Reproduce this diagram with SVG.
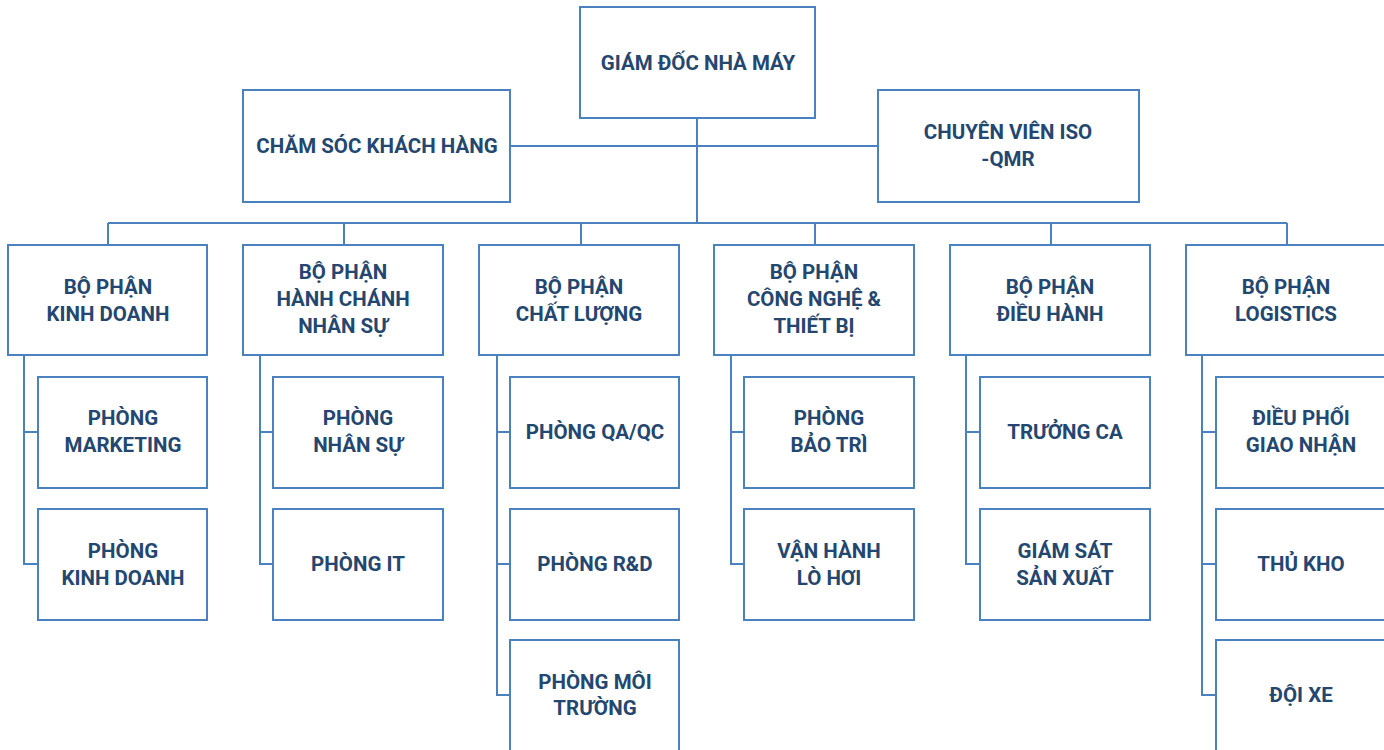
<svg xmlns="http://www.w3.org/2000/svg" width="1384" height="750" viewBox="0 0 1384 750">
<style>
.b{fill:#ffffff;stroke:#4a82c0;stroke-width:2}
.c{fill:none;stroke:#4a82c0;stroke-width:2}
text{font-family:Roboto,"Liberation Sans",sans-serif;font-weight:bold;font-size:20.5px;fill:#24476f;text-anchor:middle}
</style>
<rect width="1384" height="750" fill="#ffffff"/>
<g id="connectors">
<path class="c" d="M697 118V223M510 146H878M108 223H1287M108 223V245M344 223V245M581 223V245M815 223V245M1051 223V245M1287 223V245"/>
<path class="c" d="M24 355V564H38M24 432H38"/>
<path class="c" d="M260 355V564H273M260 432H273"/>
<path class="c" d="M497 355V695H510M497 432H510M497 564H510"/>
<path class="c" d="M731 355V564H744M731 432H744"/>
<path class="c" d="M966 355V564H980M966 432H980"/>
<path class="c" d="M1202 355V695H1216M1202 432H1216M1202 564H1216"/>
</g>
<g id="giamdoc"><rect class="b" x="580" y="7" width="235" height="111"/><text x="698" y="70">GIÁM ĐỐC NHÀ MÁY</text></g>
<g id="cskh"><rect class="b" x="243" y="90" width="267" height="112"/><text x="377" y="153">CHĂM SÓC KHÁCH HÀNG</text></g>
<g id="iso"><rect class="b" x="878" y="90" width="261" height="112"/><text x="1008" y="139">CHUYÊN VIÊN ISO</text><text x="1008" y="166">-QMR</text></g>

<g id="bp-kinhdoanh"><rect class="b" x="8" y="245" width="199" height="110"/><text x="108" y="294">BỘ PHẬN</text><text x="108" y="321">KINH DOANH</text></g>
<g id="bp-hcns"><rect class="b" x="243" y="245" width="200" height="110"/><text x="343" y="279">BỘ PHẬN</text><text x="343" y="306">HÀNH CHÁNH</text><text x="343" y="333">NHÂN SỰ</text></g>
<g id="bp-chatluong"><rect class="b" x="479" y="245" width="200" height="110"/><text x="579" y="294">BỘ PHẬN</text><text x="579" y="321">CHẤT LƯỢNG</text></g>
<g id="bp-congnghe"><rect class="b" x="714" y="245" width="200" height="110"/><text x="814" y="279">BỘ PHẬN</text><text x="814" y="306">CÔNG NGHỆ &amp;</text><text x="814" y="333">THIẾT BỊ</text></g>
<g id="bp-dieuhanh"><rect class="b" x="950" y="245" width="200" height="110"/><text x="1050" y="294">BỘ PHẬN</text><text x="1050" y="321">ĐIỀU HÀNH</text></g>
<g id="bp-logistics"><rect class="b" x="1186" y="245" width="200" height="110"/><text x="1286" y="294">BỘ PHẬN</text><text x="1286" y="321">LOGISTICS</text></g>

<g id="p-marketing"><rect class="b" x="38" y="377" width="169" height="111"/><text x="123" y="425">PHÒNG</text><text x="123" y="452">MARKETING</text></g>
<g id="p-kinhdoanh"><rect class="b" x="38" y="509" width="169" height="111"/><text x="123" y="558">PHÒNG</text><text x="123" y="585">KINH DOANH</text></g>
<g id="p-nhansu"><rect class="b" x="273" y="377" width="170" height="111"/><text x="358" y="425">PHÒNG</text><text x="358" y="452">NHÂN SỰ</text></g>
<g id="p-it"><rect class="b" x="273" y="509" width="170" height="111"/><text x="358" y="571">PHÒNG IT</text></g>
<g id="p-qaqc"><rect class="b" x="510" y="377" width="169" height="111"/><text x="595" y="439">PHÒNG QA/QC</text></g>
<g id="p-rd"><rect class="b" x="510" y="509" width="169" height="111"/><text x="595" y="571">PHÒNG R&amp;D</text></g>
<g id="p-moitruong"><rect class="b" x="510" y="640" width="169" height="112"/><text x="595" y="689">PHÒNG MÔI</text><text x="595" y="715">TRƯỜNG</text></g>
<g id="p-baotri"><rect class="b" x="744" y="377" width="170" height="111"/><text x="829" y="425">PHÒNG</text><text x="829" y="452">BẢO TRÌ</text></g>
<g id="p-lohoi"><rect class="b" x="744" y="509" width="170" height="111"/><text x="829" y="558">VẬN HÀNH</text><text x="829" y="585">LÒ HƠI</text></g>
<g id="p-truongca"><rect class="b" x="980" y="377" width="170" height="111"/><text x="1065" y="439">TRƯỞNG CA</text></g>
<g id="p-giamsat"><rect class="b" x="980" y="509" width="170" height="111"/><text x="1065" y="558">GIÁM SÁT</text><text x="1065" y="585">SẢN XUẤT</text></g>
<g id="p-dieuphoi"><rect class="b" x="1216" y="377" width="170" height="111"/><text x="1301" y="425">ĐIỀU PHỐI</text><text x="1301" y="452">GIAO NHẬN</text></g>
<g id="p-thukho"><rect class="b" x="1216" y="509" width="170" height="111"/><text x="1301" y="571">THỦ KHO</text></g>
<g id="p-doixe"><rect class="b" x="1216" y="640" width="170" height="112"/><text x="1301" y="702">ĐỘI XE</text></g>
</svg>
